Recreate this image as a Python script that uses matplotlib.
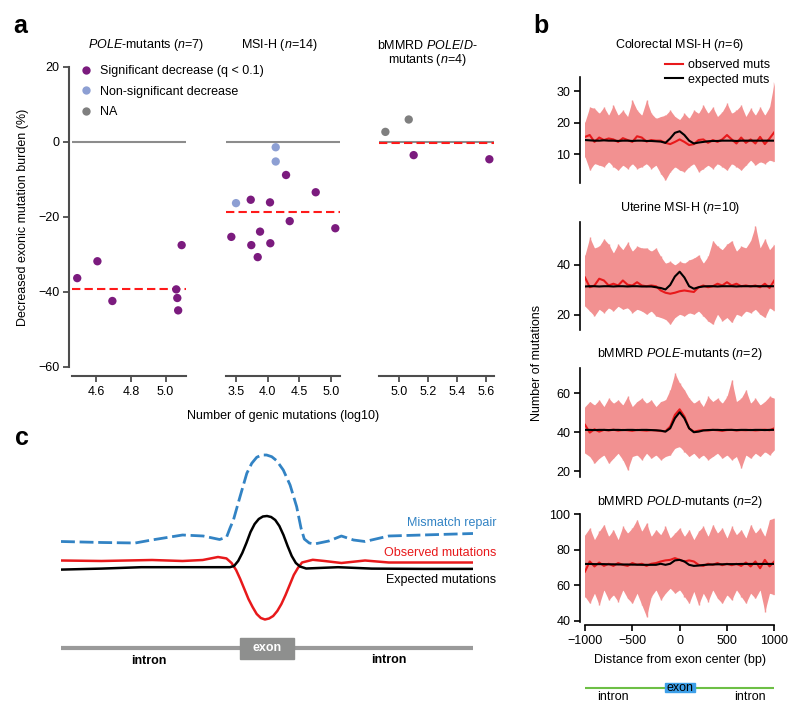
import numpy as np
import matplotlib
matplotlib.use('Agg')
import matplotlib.pyplot as plt
from matplotlib.lines import Line2D
from matplotlib.patches import Rectangle

plt.rcParams['font.family'] = ['Liberation Sans', 'DejaVu Sans']
plt.rcParams['mathtext.fontset'] = 'custom'
plt.rcParams['mathtext.rm'] = 'Liberation Sans'
plt.rcParams['mathtext.it'] = 'Liberation Sans:italic'
plt.rcParams['font.size'] = 9

W, H = 800, 714
FS = 9

# ---------------- panel a data ----------------
pole_x = [4.492, 4.608, 4.694, 5.092, 5.061, 5.067, 5.072]
pole_y = [-36.3, -31.8, -42.4, -27.5, -39.3, -41.6, -44.9]
pole_s = ['sig'] * 7

msi_x = [3.50, 4.126, 4.126, 3.426, 3.732, 3.741, 3.842, 3.879, 4.036, 4.041, 4.289, 4.347, 4.757, 5.066]
msi_y = [-16.3, -1.4, -5.2, -25.3, -15.4, -27.5, -30.7, -23.9, -16.1, -27.0, -8.8, -21.1, -13.4, -23.0]
msi_s = ['ns', 'ns', 'ns'] + ['sig'] * 11

bm_x = [4.906, 5.067, 5.101, 5.623]
bm_y = [2.7, 6.0, -3.5, -4.6]
bm_s = ['na', 'na', 'sig', 'sig']

a_titles = ['$POLE$-mutants ($n$=7)', 'MSI-H ($n$=14)', 'bMMRD $POLE/D$-\nmutants ($n$=4)']
a_xlims = [(4.462, 5.117), (3.342, 5.14), (4.864, 5.655)]
a_xticks = [[4.6, 4.8, 5.0], [3.5, 4.0, 4.5, 5.0], [5.0, 5.2, 5.4, 5.6]]
a_yticks = [20, 0, -20, -40, -60]

status_col = {'sig': '#7b1b7e', 'ns': '#8d9fd3', 'na': '#7f7f7f'}
status_lab = {'sig': 'Significant decrease (q < 0.1)', 'ns': 'Non-significant decrease', 'na': 'NA'}

# ---------------- panel b data ----------------
pos_bp = np.arange(-1000, 1001, 50)

b_titles = ['Colorectal MSI-H ($n$=6)', 'Uterine MSI-H ($n$=10)',
            'bMMRD $POLE$-mutants ($n$=2)', 'bMMRD $POLD$-mutants ($n$=2)']
b_ylims = [(0.7, 34.7), (14, 57.3), (17.1, 72.9), (39.4, 100.3)]
b_yticks = [[10, 20, 30], [20, 40], [20, 40, 60], [40, 60, 80, 100]]

crc_hi = [20.3, 25, 24.6, 23, 25, 22.4, 25.6, 22.4, 24, 22, 27.2, 24, 22.4, 27.2, 23, 21.4, 22, 22.4, 24, 22, 21,
          23, 21.4, 24, 23, 25.6, 23, 25, 22, 23.5, 26.2, 23, 24, 25.6, 22, 24.6, 22.4, 25, 22.4, 25, 33]
crc_lo = [9.1, 4.9, 7, 6.5, 6, 7.6, 6, 4.9, 6.5, 5.4, 7, 5.4, 6, 7, 5.4, 6.5, 3.8, 1.7, 4.4, 6, 4.9,
          4.4, 6, 7, 4.4, 5.4, 6.5, 5.4, 7, 6, 4.9, 7, 6, 4.9, 6.5, 8.1, 6.5, 7.6, 7, 8.1, 7.6]
crc_obs = [15.5, 16.1, 13.9, 15.3, 14.5, 15, 14.7, 13.9, 15.1, 14.5, 13.9, 15.7, 15.3, 14, 14.5, 14.3, 14.3, 13.6,
           13.2, 13.9, 14.7, 13.9, 12.9, 13.2, 14.5, 14.7, 13.6, 14.5, 13.9, 14.7, 16.1, 14.7, 13.4, 15.3, 13.6,
           14.7, 13.4, 15.5, 13.2, 15, 17]
crc_exp = [14.5, 14.4, 14.3, 14.3, 14.4, 14.3, 14.3, 14.2, 14.3, 14.3, 14.2, 14.3, 14.3, 14.2, 14.2, 14.1, 14.0,
           13.6, 15, 16.8, 17.3, 16.1, 14.3, 13.4, 13.7, 13.9, 14.1, 14.2, 14.2, 14.3, 14.3, 14.3, 14.2, 14.3,
           14.3, 14.3, 14.3, 14.3, 14.3, 14.3, 14.3]

ut_hi = [44, 51, 46.8, 47.5, 50.4, 48.3, 44.8, 48.3, 46.1, 49, 45.5, 47.5, 46.8, 46.8, 45.5, 46.8, 43.4, 40.7,
         41.4, 40, 41.4, 40.7, 42, 42.7, 44, 40.7, 43.4, 49.7, 47.5, 46.1, 48.3, 49.7, 45.5, 47.5, 46.8, 49.7,
         55.7, 46.8, 50.4, 46.1, 48.3]
ut_lo = [23.5, 21.6, 19.6, 22.3, 20.9, 22.9, 21.6, 23.5, 22.3, 22.9, 20.9, 22.3, 21.6, 20.3, 21.6, 19.6, 19,
         18.3, 16.3, 19, 20.3, 19.6, 20.9, 20.3, 21.6, 19.6, 17.6, 16.3, 20.3, 17.6, 19, 17, 20.3, 19.6, 21.6,
         20.9, 22.3, 20.3, 19, 22.9, 21.6]
ut_obs = [35, 31.1, 31.8, 34.5, 33.8, 31.8, 32.5, 31.8, 33.8, 32.1, 31.8, 33.1, 31.8, 31.5, 31.8, 31.5, 29.8,
          28.9, 28.5, 28.9, 29.5, 29.8, 29.5, 29.2, 31.1, 31.8, 31.1, 31.5, 32.5, 31.8, 33.1, 31.8, 32.5, 31.5,
          31.8, 31.4, 31.8, 31.1, 32.5, 30.8, 33.8]
ut_exp = [31.4, 31.5, 31.5, 31.4, 31.5, 31.5, 31.4, 31.5, 31.5, 31.4, 31.5, 31.5, 31.4, 31.4, 31.4, 31.1, 30.8,
          30.2, 32, 35.4, 37.3, 35, 31.5, 30.5, 31.1, 31.4, 31.5, 31.5, 31.4, 31.5, 31.5, 31.5, 31.4, 31.5,
          31.5, 31.5, 31.5, 31.5, 31.5, 31.5, 31.5]

pe_hi = [53.2, 55.8, 54, 56.6, 53.2, 57.5, 54.9, 56.6, 54, 58.4, 53.2, 55.8, 57.5, 54.9, 56.6, 53.2, 55.8, 56.6,
         61.8, 70.4, 65.2, 61.8, 57.5, 54.9, 56.6, 53.2, 58.4, 55.8, 57.5, 54.9, 58.4, 67, 55.8, 57.5, 61.8,
         54.9, 57.5, 54, 55.8, 58.4, 57.5]
pe_lo = [29.2, 27.5, 24, 26.6, 28.3, 24, 26.6, 29.2, 25.8, 20.6, 27.5, 28.3, 25.8, 29.2, 26.6, 28.3, 25.8, 27.5,
         28.3, 31.8, 32.6, 30, 27.5, 29.2, 26.6, 28.3, 25.8, 27.5, 29.2, 26.6, 28.3, 25.8, 27.5, 21.5, 28.3,
         26.6, 29.2, 27.5, 30, 28.3, 30.9]
pe_obs = [43.8, 39.8, 41.5, 40.3, 41.2, 40.9, 41.3, 40.8, 41.2, 41.0, 40.7, 41.2, 41.0, 40.8, 41.1, 40.9, 40.6,
          40.5, 42.9, 48.9, 51.8, 48.1, 42, 40.3, 40.8, 41.1, 40.9, 41.2, 41.0, 40.7, 41.1, 41.2, 40.9, 41.1,
          41.0, 41.2, 40.9, 41.1, 41.3, 41.0, 42]
pe_exp = [41.2, 41.2, 41.1, 41.2, 41.2, 41.1, 41.2, 41.2, 41.1, 41.2, 41.2, 41.1, 41.2, 41.2, 41.1, 41.0, 40.8,
          40.3, 42, 47.2, 50.3, 47.2, 42, 40, 40.3, 40.9, 41.1, 41.2, 41.2, 41.1, 41.2, 41.2, 41.1, 41.2, 41.2,
          41.1, 41.2, 41.2, 41.1, 41.2, 41.2]

pd_hi = [88.5, 92.3, 85.7, 90.4, 94.2, 87.5, 91.3, 85.7, 93.2, 89.4, 92.3, 97, 90.4, 95.1, 87.5, 91.3, 88.5,
         93.2, 86.6, 89.4, 92.3, 87.5, 91.3, 85.7, 90.4, 93.2, 87.5, 94.2, 89.4, 92.3, 86.6, 93.2, 88.5, 91.3,
         86.6, 94.2, 89.4, 92.3, 87.5, 97, 97.9]
pd_lo = [53.6, 49.8, 55.5, 48.9, 57.4, 51.7, 54.6, 50.8, 57.4, 52.6, 49.8, 55.5, 48.9, 42.3, 53.6, 57.4, 51.7,
         55.5, 58.3, 55.5, 57.4, 53.6, 49.8, 56.5, 48.9, 55.5, 50.8, 57.4, 52.6, 49.8, 54.6, 51.7, 57.4, 53.6,
         49.8, 55.5, 52.6, 57.4, 45.1, 55.5, 54.6]
pd_obs = [67.7, 73.4, 70.6, 72.8, 70.9, 72.1, 70.9, 72.5, 71.5, 70.9, 72.5, 71.5, 72.1, 70.9, 72.1, 72.5, 73.4,
          74, 74.3, 75.3, 74.3, 73.4, 74, 73.4, 71.5, 70.9, 72.1, 71.5, 72.5, 71.3, 72.1, 71.3, 72.1, 70.9, 72.8,
          70.6, 73.4, 69.6, 74.3, 70.6, 73.4]
pd_exp = [72.0, 72.0, 71.9, 71.9, 71.9, 71.8, 71.8, 71.7, 71.7, 71.7, 71.6, 71.6, 71.5, 71.5, 71.5, 71.5, 72.1,
          71.5, 72.1, 74, 74.3, 73.4, 71.5, 70.9, 71.1, 71.4, 71.6, 71.7, 71.8, 71.8, 71.9, 71.9, 71.9, 72.0,
          72.0, 72.0, 72.0, 72.0, 72.0, 72.0, 72.0]

b_hi = [crc_hi, ut_hi, pe_hi, pd_hi]
b_lo = [crc_lo, ut_lo, pe_lo, pd_lo]
b_obs = [crc_obs, ut_obs, pe_obs, pd_obs]
b_exp = [crc_exp, ut_exp, pe_exp, pd_exp]

# ---------------- panel c data (schematic) ----------------
c_mmr_x = [-1000, -800, -640, -560, -410, -310, -230, -196, -180, -163, -131, -98, -74, -50, -26, -2, 23, 47,
           79, 112, 144, 165, 181, 205, 230, 300, 361, 420, 476, 591, 755, 1000]
c_mmr_y = [158.5, 157.5, 157, 160, 165, 164, 160.5, 163, 171.7, 180, 203.3, 226.7, 236.7, 242.7, 245, 245,
           243.3, 239.3, 230, 215, 193.3, 172, 161, 157, 156, 159, 164, 160, 158.5, 164, 165, 166.5]
c_obs_x = [-1000, -804, -558, -410, -312, -238, -197, -172, -150, -130, -110, -90, -70, -50, -30, -10, 10, 30,
           50, 70, 90, 110, 130, 150, 170, 222, 279, 361, 476, 591, 1000]
c_obs_y = [139.5, 139, 140, 139, 140, 143, 141.6, 137, 130, 121, 111, 101, 93, 86, 82, 80.5, 81.5, 84, 89, 96,
           105, 115, 125, 132, 137.5, 140.2, 139, 137, 139.5, 137.5, 137.5]
c_exp_x = [-1000, -804, -610, -395, -180, -160, -140, -120, -100, -80, -60, -40, -20, 0, 20, 40, 60, 80, 100,
           120, 140, 160, 190, 345, 509, 755, 1000]
c_exp_y = [130.4, 131.4, 132.8, 132.8, 132.8, 134, 139, 147, 157, 168, 176, 181, 183.5, 184, 183, 180, 174,
           165, 154, 144, 137, 133.5, 131.5, 132.8, 131.4, 131.1, 131.1]


def fx(px):
    return px / W


def fy(py):
    return 1 - py / H


fig = plt.figure(figsize=(8, 7.14), dpi=100)

# ---------------- panel a ----------------
groups = [(pole_x, pole_y, pole_s), (msi_x, msi_y, msi_s), (bm_x, bm_y, bm_s)]
a_lefts = [72, 226, 379.3]
a_widths = [114, 114, 114.7]
spine_gray = '#4d4d4d'
for i, (gx, gy, gs) in enumerate(groups):
    ax = fig.add_axes([fx(a_lefts[i]), fy(367), a_widths[i] / W, 300 / H])
    ax.set_xlim(a_xlims[i])
    ax.set_ylim(-60, 20)
    ax.axhline(0, color='#8c8c8c', lw=1.5, zorder=1)
    ax.axhline(np.median(gy), color='#ff1a1a', lw=1.5, ls=(0, (4, 2)), zorder=2)
    ax.scatter(gx, gy, s=36, c=[status_col[s] for s in gs], edgecolors='none', zorder=3)
    for side in ['top', 'right']:
        ax.spines[side].set_visible(False)
    ax.spines['bottom'].set_position(('outward', 6.5))
    ax.spines['bottom'].set_color(spine_gray)
    ax.spines['bottom'].set_linewidth(1.5)
    ax.set_xticks(a_xticks[i])
    ax.set_xticklabels(['%.1f' % t for t in a_xticks[i]])
    ax.tick_params(axis='x', length=4, width=1.3, color=spine_gray, labelsize=FS, pad=3)
    if i == 0:
        ax.spines['left'].set_position(('outward', 2))
        ax.spines['left'].set_color(spine_gray)
        ax.spines['left'].set_linewidth(1.5)
        ax.set_yticks(a_yticks)
        ax.set_yticklabels(['%d' % t if t >= 0 else '\u2212%d' % -t for t in a_yticks])
        ax.tick_params(axis='y', length=4, width=1.3, color=spine_gray, labelsize=FS, pad=3)
        handles = [Line2D([], [], marker='o', ls='none', ms=6, color=status_col[k], mec='none',
                          label=status_lab[k]) for k in ['sig', 'ns', 'na']]
        ax.legend(handles=handles, loc='upper left', bbox_to_anchor=(fx(80), fy(65)),
                  bbox_transform=fig.transFigure, frameon=False, borderpad=0, borderaxespad=0,
                  handlelength=1.0, handletextpad=0.6, labelspacing=0.68, fontsize=FS)
    else:
        ax.spines['left'].set_visible(False)
        ax.set_yticks([])
    ax.patch.set_alpha(0)

fig.text(fx(146), fy(45), a_titles[0], ha='center', va='center', fontsize=FS)
fig.text(fx(279), fy(45), a_titles[1], ha='center', va='center', fontsize=FS)
fig.text(fx(427), fy(53.5), a_titles[2], ha='center', va='center', fontsize=FS, linespacing=1.0)
fig.text(fx(23), fy(217), 'Decreased exonic mutation burden (%)', rotation=90, ha='center', va='center',
         fontsize=FS)
fig.text(fx(283), fy(416), 'Number of genic mutations (log10)', ha='center', va='center', fontsize=FS)

# ---------------- panel b ----------------
b_tops = [76.7, 221.7, 368.3, 513.8]
b_bots = [183.3, 330, 476.7, 621.7]
b_title_y = [45, 208.3, 354.3, 501.7]
pink = '#f29191'
for i in range(4):
    ax = fig.add_axes([fx(585), fy(b_bots[i]), 189.3 / W, (b_bots[i] - b_tops[i]) / H])
    # per-bp counts: band between the local highs and lows, with spikes at each bin
    ax.fill_between(pos_bp, b_lo[i], b_hi[i], color=pink, lw=0, zorder=1)
    ax.vlines(pos_bp, b_lo[i], b_hi[i], color=pink, lw=1.0, zorder=1)
    l_obs, = ax.plot(pos_bp, b_obs[i], color='#e8191b', lw=1.5, zorder=2, label='observed muts')
    l_exp, = ax.plot(pos_bp, b_exp[i], color='black', lw=1.5, zorder=3, label='expected muts')
    ax.set_xlim(-1000, 1000)
    ax.set_ylim(b_ylims[i])
    ax.set_yticks(b_yticks[i])
    for side in ['top', 'right']:
        ax.spines[side].set_visible(False)
    ax.spines['left'].set_position(('outward', 3.6))
    ax.spines['left'].set_linewidth(1.2)
    ax.tick_params(axis='y', length=4, width=1.2, labelsize=FS, pad=3)
    if i == 3:
        ax.spines['bottom'].set_position(('outward', 2.4))
        ax.spines['bottom'].set_linewidth(1.2)
        ax.set_xticks([-1000, -500, 0, 500, 1000])
        ax.set_xticklabels(['\u22121000', '\u2212500', '0', '500', '1000'])
        ax.tick_params(axis='x', length=4, width=1.2, labelsize=FS, pad=3)
    else:
        ax.spines['bottom'].set_visible(False)
        ax.set_xticks([])
    if i == 0:
        ax.legend(handles=[l_obs, l_exp], loc='upper left', bbox_to_anchor=(fx(665), fy(59)),
                  bbox_transform=fig.transFigure, frameon=False, borderpad=0, borderaxespad=0,
                  handlelength=1.4, handletextpad=0.45, labelspacing=0.2, fontsize=FS)
    ax.patch.set_alpha(0)
    fig.text(fx(680), fy(b_title_y[i]), b_titles[i], ha='center', va='center', fontsize=FS)

fig.text(fx(537), fy(363), 'Number of mutations', rotation=90, ha='center', va='center', fontsize=FS)
fig.text(fx(680), fy(660), 'Distance from exon center (bp)', ha='center', va='center', fontsize=FS)

# gene model under panel b
axg = fig.add_axes([fx(585), fy(705), 189.3 / W, 29 / H])
axg.set_xlim(-1000, 1000)
axg.set_ylim(0, 1)
axg.axis('off')
axg.plot([-1000, 1000], [0.597, 0.597], color='#6dbf45', lw=1.5)
axg.add_patch(Rectangle((-150, 0.448), 310, 0.311, color='#3d9fe8', zorder=2))
axg.text(5, 0.6, 'exon', ha='center', va='center', fontsize=FS, zorder=3)
axg.text(-707, 0.27, 'intron', ha='center', va='center', fontsize=FS)
axg.text(743, 0.27, 'intron', ha='center', va='center', fontsize=FS)

# ---------------- panel c ----------------
axc = fig.add_axes([fx(61), fy(700), 412 / W, 260 / H])
axc.set_xlim(-1000, 1000)
axc.set_ylim(0, 260)
axc.axis('off')
axc.plot(c_mmr_x, c_mmr_y, color='#3283c4', lw=2.0, ls=(0, (5, 1.7)), solid_joinstyle='round')
axc.plot(c_obs_x, c_obs_y, color='#e8191b', lw=1.8, solid_joinstyle='round')
axc.plot(c_exp_x, c_exp_y, color='black', lw=1.8, solid_joinstyle='round')
axc.plot([-1000, 1000], [51.6, 51.6], color='#9a9a9a', lw=3.0, solid_capstyle='butt', zorder=1)
axc.add_patch(Rectangle((-130, 41), 260, 21, color='#8e8f8e', zorder=2))
axc.text(0, 51.6, 'exon', color='white', fontweight='bold', ha='center', va='center', fontsize=FS, zorder=3)
axc.text(-574, 39, 'intron', fontweight='bold', ha='center', va='center', fontsize=FS)
axc.text(591, 40, 'intron', fontweight='bold', ha='center', va='center', fontsize=FS)
axc.text(1113, 177, 'Mismatch repair', color='#3283c4', ha='right', va='center', fontsize=FS)
axc.text(1113, 146.6, 'Observed mutations', color='#e8191b', ha='right', va='center', fontsize=FS)
axc.text(1113, 119.6, 'Expected mutations', color='black', ha='right', va='center', fontsize=FS)

# panel letters
fig.text(fx(13), fy(33), 'a', fontsize=18, fontweight='bold', ha='left', va='baseline')
fig.text(fx(533), fy(33), 'b', fontsize=18, fontweight='bold', ha='left', va='baseline')
fig.text(fx(15), fy(445), 'c', fontsize=18, fontweight='bold', ha='left', va='baseline')

fig.savefig('out.png', dpi=100)
